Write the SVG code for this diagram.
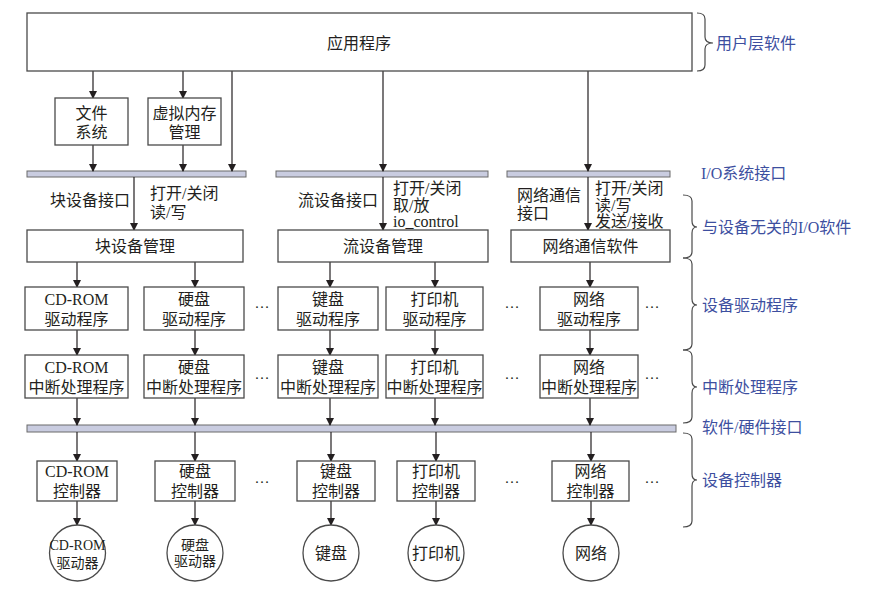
<svg xmlns="http://www.w3.org/2000/svg" width="876" height="592" viewBox="0 0 876 592">
<defs>
<marker id="ah" markerWidth="8" markerHeight="10" refX="7" refY="5" orient="auto" markerUnits="userSpaceOnUse">
<path d="M0,1 L8,5 L0,9 Z" fill="#231f20"/>
</marker>
<style>
text{font-family:"Liberation Serif","Noto Sans CJK SC",serif;font-size:16px;fill:#231f20;dominant-baseline:central}
.c{text-anchor:middle}
.box{fill:#fff;stroke:#4a4a4a;stroke-width:1.3}
.bar{fill:#c9cce0;stroke:#6a6a6a;stroke-width:1}
.cl{stroke:#231f20;stroke-width:1.2;fill:none;marker-end:url(#ah)}
.br{stroke:#4a4a4a;stroke-width:1.2;fill:none}
.lb{fill:#3d4f9f}
.sm{font-size:14px}
.dots{font-size:15px}
</style>
</defs>
<rect width="876" height="592" fill="#fff"/>

<g id="bars">
<rect class="bar" x="27" y="171" width="219" height="6"/>
<rect class="bar" x="276" y="171" width="212" height="6"/>
<rect class="bar" x="507" y="171" width="163" height="6"/>
<rect class="bar" x="27" y="425" width="649" height="7"/>
</g>

<g id="connectors">
<line class="cl" x1="93" y1="71" x2="93" y2="98"/>
<line class="cl" x1="183" y1="71" x2="183" y2="98"/>
<line class="cl" x1="232" y1="71" x2="232" y2="171"/>
<line class="cl" x1="383" y1="71" x2="383" y2="171"/>
<line class="cl" x1="588" y1="71" x2="588" y2="171"/>
<line class="cl" x1="93" y1="145" x2="93" y2="171"/>
<line class="cl" x1="183" y1="145" x2="183" y2="171"/>
<line class="cl" x1="134" y1="177" x2="134" y2="230"/>
<line class="cl" x1="383" y1="177" x2="383" y2="230"/>
<line class="cl" x1="588" y1="177" x2="588" y2="230"/>
<line class="cl" x1="77" y1="262" x2="77" y2="287"/>
<line class="cl" x1="195" y1="262" x2="195" y2="287"/>
<line class="cl" x1="330" y1="262" x2="330" y2="287"/>
<line class="cl" x1="435" y1="262" x2="435" y2="287"/>
<line class="cl" x1="590" y1="262" x2="590" y2="287"/>
<line class="cl" x1="77" y1="330" x2="77" y2="355"/>
<line class="cl" x1="195" y1="330" x2="195" y2="355"/>
<line class="cl" x1="330" y1="330" x2="330" y2="355"/>
<line class="cl" x1="435" y1="330" x2="435" y2="355"/>
<line class="cl" x1="590" y1="330" x2="590" y2="355"/>
<line class="cl" x1="77" y1="398" x2="77" y2="425"/>
<line class="cl" x1="195" y1="398" x2="195" y2="425"/>
<line class="cl" x1="330" y1="398" x2="330" y2="425"/>
<line class="cl" x1="435" y1="398" x2="435" y2="425"/>
<line class="cl" x1="590" y1="398" x2="590" y2="425"/>
<line class="cl" x1="77" y1="432" x2="77" y2="461"/>
<line class="cl" x1="195" y1="432" x2="195" y2="461"/>
<line class="cl" x1="331" y1="432" x2="331" y2="461"/>
<line class="cl" x1="436" y1="432" x2="436" y2="461"/>
<line class="cl" x1="591" y1="432" x2="591" y2="461"/>
<line class="cl" x1="77" y1="501" x2="77" y2="525"/>
<line class="cl" x1="195" y1="501" x2="195" y2="525"/>
<line class="cl" x1="331" y1="501" x2="331" y2="525"/>
<line class="cl" x1="436" y1="501" x2="436" y2="525"/>
<line class="cl" x1="591" y1="501" x2="591" y2="525"/>
</g>

<g id="app"><rect class="box" x="27" y="13" width="665" height="58"/><text class="c" x="359" y="43">应用程序</text></g>
<g id="fs"><rect class="box" x="55" y="98" width="73" height="47"/><text class="c" x="91.5" y="113">文件</text><text class="c" x="91.5" y="132">系统</text></g>
<g id="vm"><rect class="box" x="148" y="98" width="73" height="47"/><text class="c" x="184.5" y="113">虚拟内存</text><text class="c" x="184.5" y="132">管理</text></g>

<g id="iface-labels">
<text x="50" y="200">块设备接口</text>
<text x="150" y="193">打开/关闭</text>
<text x="150" y="212">读/写</text>
<text x="298" y="200">流设备接口</text>
<text x="393" y="188">打开/关闭</text>
<text x="393" y="205">取/放</text>
<text x="393" y="221">io_control</text>
<text x="517" y="195">网络通信</text>
<text x="517" y="213">接口</text>
<text x="595" y="188">打开/关闭</text>
<text x="595" y="205">读/写</text>
<text x="595" y="221">发送/接收</text>
</g>

<g id="blockmgr"><rect class="box" x="27" y="230" width="216" height="32"/><text class="c" x="135" y="246">块设备管理</text></g>
<g id="streammgr"><rect class="box" x="278" y="230" width="210" height="32"/><text class="c" x="383" y="246">流设备管理</text></g>
<g id="netsw"><rect class="box" x="511" y="230" width="159" height="32"/><text class="c" x="590.5" y="246">网络通信软件</text></g>

<g id="drv-cd"><rect class="box" x="25" y="287" width="103" height="43"/><text class="c" x="76.5" y="299">CD-ROM</text><text class="c" x="76.5" y="319">驱动程序</text></g>
<g id="drv-hd"><rect class="box" x="144" y="287" width="100" height="43"/><text class="c" x="194" y="299">硬盘</text><text class="c" x="194" y="319">驱动程序</text></g>
<g id="drv-kb"><rect class="box" x="278" y="287" width="100" height="43"/><text class="c" x="328" y="299">键盘</text><text class="c" x="328" y="319">驱动程序</text></g>
<g id="drv-pr"><rect class="box" x="386" y="287" width="97" height="43"/><text class="c" x="434.5" y="299">打印机</text><text class="c" x="434.5" y="319">驱动程序</text></g>
<g id="drv-net"><rect class="box" x="540" y="287" width="98" height="43"/><text class="c" x="589" y="299">网络</text><text class="c" x="589" y="319">驱动程序</text></g>

<g id="int-cd"><rect class="box" x="25" y="355" width="103" height="43"/><text class="c" x="76.5" y="367">CD-ROM</text><text class="c" x="76.5" y="387">中断处理程序</text></g>
<g id="int-hd"><rect class="box" x="144" y="355" width="100" height="43"/><text class="c" x="194" y="367">硬盘</text><text class="c" x="194" y="387">中断处理程序</text></g>
<g id="int-kb"><rect class="box" x="278" y="355" width="100" height="43"/><text class="c" x="328" y="367">键盘</text><text class="c" x="328" y="387">中断处理程序</text></g>
<g id="int-pr"><rect class="box" x="386" y="355" width="97" height="43"/><text class="c" x="434.5" y="367">打印机</text><text class="c" x="434.5" y="387">中断处理程序</text></g>
<g id="int-net"><rect class="box" x="540" y="355" width="98" height="43"/><text class="c" x="589" y="367">网络</text><text class="c" x="589" y="387">中断处理程序</text></g>

<g id="ctl-cd"><rect class="box" x="37" y="461" width="80" height="40"/><text class="c" x="77" y="471">CD-ROM</text><text class="c" x="77" y="491">控制器</text></g>
<g id="ctl-hd"><rect class="box" x="155" y="461" width="80" height="40"/><text class="c" x="195" y="471">硬盘</text><text class="c" x="195" y="491">控制器</text></g>
<g id="ctl-kb"><rect class="box" x="297" y="461" width="78" height="40"/><text class="c" x="336" y="471">键盘</text><text class="c" x="336" y="491">控制器</text></g>
<g id="ctl-pr"><rect class="box" x="397" y="461" width="78" height="40"/><text class="c" x="436" y="471">打印机</text><text class="c" x="436" y="491">控制器</text></g>
<g id="ctl-net"><rect class="box" x="552" y="461" width="77" height="40"/><text class="c" x="590.5" y="471">网络</text><text class="c" x="590.5" y="491">控制器</text></g>

<g id="dev-cd"><circle class="box" cx="77.5" cy="553" r="28"/><text class="c sm" x="77.5" y="545">CD-ROM</text><text class="c sm" x="77.5" y="563">驱动器</text></g>
<g id="dev-hd"><circle class="box" cx="195" cy="553" r="28"/><text class="c sm" x="195" y="545">硬盘</text><text class="c sm" x="195" y="561">驱动器</text></g>
<g id="dev-kb"><circle class="box" cx="331" cy="553" r="28"/><text class="c" x="331" y="553">键盘</text></g>
<g id="dev-pr"><circle class="box" cx="436" cy="553" r="28"/><text class="c" x="436" y="553">打印机</text></g>
<g id="dev-net"><circle class="box" cx="591" cy="553" r="28"/><text class="c" x="591" y="553">网络</text></g>

<g id="ellipses">
<text class="c dots" x="262" y="303">…</text>
<text class="c dots" x="512" y="303">…</text>
<text class="c dots" x="652" y="303">…</text>
<text class="c dots" x="262" y="374">…</text>
<text class="c dots" x="512" y="374">…</text>
<text class="c dots" x="652" y="374">…</text>
<text class="c dots" x="262" y="478">…</text>
<text class="c dots" x="512" y="478">…</text>
<text class="c dots" x="652" y="478">…</text>
</g>

<g id="braces">
<path class="br" d="M697,13 Q705,13 705,19 L705,37 Q705,43 713,43 Q705,43 705,49 L705,65 Q705,71 697,71"/>
<path class="br" d="M683,195 Q692,195 692,201 L692,221 Q692,227 697,227 Q692,227 692,233 L692,252 Q692,258 683,258"/>
<path class="br" d="M683,258 Q692,258 692,264 L692,299 Q692,305 697,305 Q692,305 692,311 L692,344 Q692,350 683,350"/>
<path class="br" d="M683,350 Q692,350 692,356 L692,381 Q692,387 697,387 Q692,387 692,393 L692,417 Q692,423 683,423"/>
<path class="br" d="M683,433 Q692,433 692,439 L692,474 Q692,480 697,480 Q692,480 692,486 L692,521 Q692,527 683,527"/>
</g>

<g id="layer-labels">
<text class="lb" x="716" y="43">用户层软件</text>
<text class="lb" x="701" y="173">I/O系统接口</text>
<text class="lb" x="702" y="227">与设备无关的I/O软件</text>
<text class="lb" x="702" y="305">设备驱动程序</text>
<text class="lb" x="702" y="387">中断处理程序</text>
<text class="lb" x="702" y="427">软件/硬件接口</text>
<text class="lb" x="702" y="480">设备控制器</text>
</g>
</svg>
